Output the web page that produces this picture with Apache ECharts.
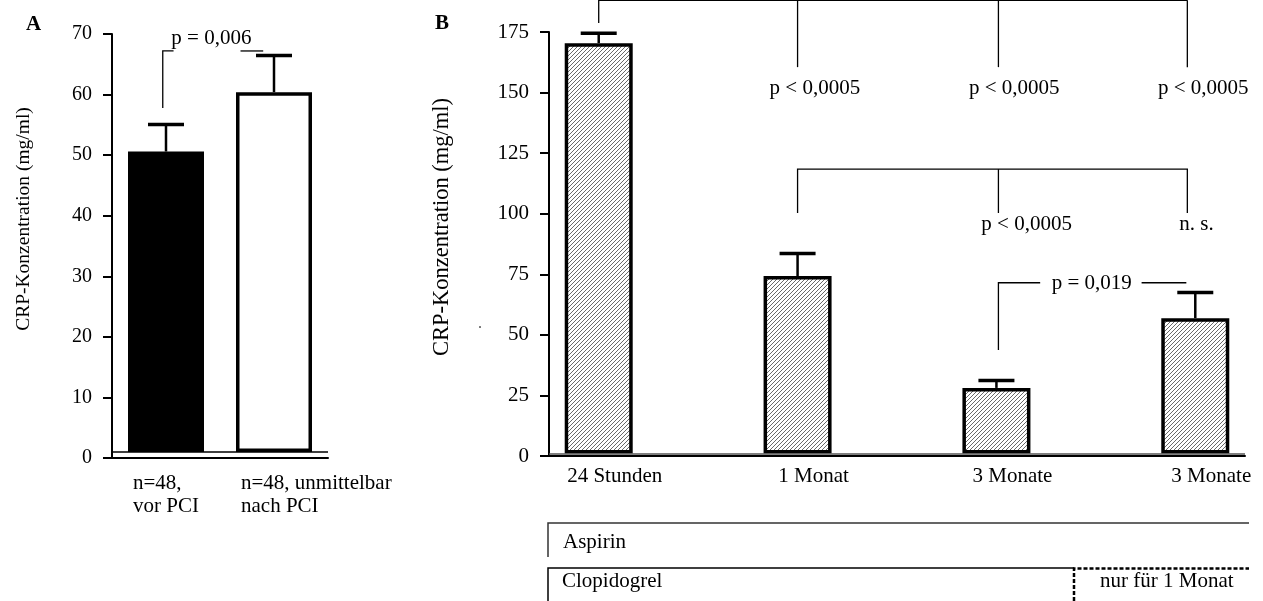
<!DOCTYPE html>
<html>
<head>
<meta charset="utf-8">
<script src="https://cdn.jsdelivr.net/npm/echarts@6/dist/echarts.min.js"></script>
<style>
  html, body { margin: 0; padding: 0; background: #fff; }
  #chart { width: 1263px; height: 601px; }
</style>
</head>
<body>
<div id="chart"></div>
<script>
const FONT = 'Liberation Serif'

// panel A: before / right after PCI
const groupsA = ['n=48,\nvor PCI', 'n=48, unmittelbar\nnach PCI']
const meansA = [50.6, 60.4]
const errTopsA = [55.3, 66.7]

// panel B: follow-up
const groupsB = ['24 Stunden', '1 Monat', '3 Monate', '3 Monate']
const meansB = [170.4, 74.3, 28.1, 56.9]
const errTopsB = [175.1, 84.2, 31.8, 68.1]

// significance brackets as polylines in data units
const bracketsA = [
  [[-0.03, 57.8], [-0.03, 67.2], [0.07, 67.2]],
  [[0.69, 67.2], [0.9, 67.2]]
]
const pLabelsA = [[0.42, 69.2, 'p = 0,006']]

const bracketsB = [
  [[0, 178.7], [0, 188.1], [2.96, 188.1]],
  [[1, 188.1], [1, 160.5]],
  [[2.01, 188.1], [2.01, 160.5]],
  [[2.96, 188.1], [2.96, 160.5]],
  [[1, 100.3], [1, 118.4], [2.96, 118.4], [2.96, 100.3]],
  [[2.01, 118.4], [2.01, 100.3]],
  [[2.01, 43.8], [2.01, 71.5], [2.22, 71.5]],
  [[2.73, 71.5], [2.955, 71.5]]
]
const pLabelsB = [
  [1.087, 151.5, 'p < 0,0005'],
  [2.09, 151.5, 'p < 0,0005'],
  [3.04, 151.5, 'p < 0,0005'],
  [2.152, 95.7, 'p < 0,0005'],
  [3.006, 95.7, 'n. s.'],
  [2.479, 71.4, 'p = 0,019']
]

const BASE = 1
const LW = 3.5
const CAP = 36

function makeHatch () {
  const c = document.createElement('canvas')
  c.width = c.height = 4
  const g = c.getContext('2d')
  g.fillStyle = '#fff'
  g.fillRect(0, 0, 4, 4)
  g.strokeStyle = '#6a6a6a'
  g.lineWidth = 1
  g.beginPath()
  g.moveTo(0, 4); g.lineTo(4, 0)
  g.moveTo(-1, 1); g.lineTo(1, -1)
  g.moveTo(3, 5); g.lineTo(5, 3)
  g.stroke()
  return c
}
const hatch = { image: makeHatch(), repeat: 'repeat' }

const barRenderer = (fills, barW) => (params, api) => {
  const x = api.value(0)
  const top = api.coord([x, api.value(1)])
  const base = api.coord([x, BASE])
  const err = api.coord([x, api.value(2)])
  const w = barW - LW
  return {
    type: 'group',
    children: [
      { type: 'line', shape: { x1: top[0], y1: top[1], x2: err[0], y2: err[1] + 1.5 }, style: { stroke: '#000', lineWidth: 2.5 } },
      { type: 'line', shape: { x1: err[0] - CAP / 2, y1: err[1] + 1.5, x2: err[0] + CAP / 2, y2: err[1] + 1.5 }, style: { stroke: '#000', lineWidth: 3.5 } },
      {
        type: 'rect',
        shape: { x: top[0] - w / 2, y: top[1] + LW / 2, width: w, height: base[1] - top[1] - LW },
        style: { fill: fills[params.dataIndex], stroke: '#000', lineWidth: LW }
      }
    ]
  }
}

const bracketRenderer = list => (params, api) => ({
  type: 'polyline',
  shape: { points: list[params.dataIndex].map(p => api.coord(p)) },
  style: { stroke: '#000', lineWidth: 1.3, fill: null }
})

const labelRenderer = list => (params, api) => {
  const p = api.coord([list[params.dataIndex][0], list[params.dataIndex][1]])
  return {
    type: 'text',
    x: p[0],
    y: p[1],
    style: {
      text: list[params.dataIndex][2],
      font: '21px "' + FONT + '"',
      fill: '#000',
      align: 'center',
      verticalAlign: 'middle'
    }
  }
}

const yAxisBase = {
  type: 'value',
  axisLine: { show: true, onZero: false, lineStyle: { color: '#000', width: 2 } },
  axisTick: { show: true, length: 9, lineStyle: { color: '#000', width: 2 } },
  splitLine: { show: false },
  nameLocation: 'middle'
}

const chart = echarts.init(document.getElementById('chart'))

chart.setOption({
  animation: false,
  backgroundColor: '#fff',
  grid: [
    { left: 112, top: 34, width: 216, height: 424, outerBoundsMode: 'none' },
    { left: 549, top: 32, width: 696, height: 424, outerBoundsMode: 'none' }
  ],
  xAxis: [
    {
      type: 'value',
      gridIndex: 0,
      min: -0.5,
      max: 1.5,
      axisLine: { onZero: false, lineStyle: { color: '#000', width: 2 } },
      axisTick: { show: false },
      splitLine: { show: false },
      axisLabel: {
        customValues: [0, 1],
        margin: 14,
        formatter: v => (groupsA[v] || '').split('\n').map(s => '{l|' + s + '}').join('\n'),
        rich: {
          l: { width: 66, align: 'left', fontSize: 21, fontFamily: FONT, color: '#000', lineHeight: 23 }
        }
      }
    },
    {
      type: 'value',
      gridIndex: 1,
      min: -0.25,
      max: 3.25,
      axisLine: { onZero: false, lineStyle: { color: '#000', width: 2 } },
      axisTick: { show: false },
      splitLine: { show: false },
      axisLabel: {
        customValues: [0, 1, 2, 3],
        margin: 10,
        padding: [0, 0, 0, 32],
        fontSize: 21,
        fontFamily: FONT,
        color: '#000',
        formatter: v => groupsB[v] || ''
      }
    }
  ],
  yAxis: [
    Object.assign({}, yAxisBase, {
      gridIndex: 0,
      min: 0,
      max: 70,
      interval: 10,
      axisLabel: { margin: 20, fontSize: 20, fontFamily: FONT, color: '#000' },
      name: 'CRP-Konzentration (mg/ml)',
      nameGap: 78,
      nameTextStyle: { fontSize: 19.5, fontFamily: FONT, color: '#000', padding: [0, 0, 0, 54] }
    }),
    Object.assign({}, yAxisBase, {
      gridIndex: 1,
      min: 0,
      max: 175,
      interval: 25,
      axisLabel: { margin: 20, fontSize: 21, fontFamily: FONT, color: '#000' },
      name: 'CRP-Konzentration (mg/ml)',
      nameGap: 95,
      nameTextStyle: { fontSize: 22.5, fontFamily: FONT, color: '#000', padding: [0, 0, 0, 34] }
    })
  ],
  series: [
    // inner base lines just above the x axes
    {
      type: 'line', xAxisIndex: 0, yAxisIndex: 0, symbol: 'none', silent: true,
      lineStyle: { color: '#000', width: 1.5 },
      data: [[-0.5, BASE], [1.5, BASE]]
    },
    {
      type: 'line', xAxisIndex: 1, yAxisIndex: 1, symbol: 'none', silent: true,
      lineStyle: { color: '#555', width: 1.5 },
      data: [[-0.25, 0.8], [3.25, 0.8]]
    },
    {
      type: 'custom', xAxisIndex: 0, yAxisIndex: 0, clip: false,
      renderItem: barRenderer(['#000', '#fff'], 76),
      data: meansA.map((v, i) => [i, v, errTopsA[i]])
    },
    {
      type: 'custom', xAxisIndex: 1, yAxisIndex: 1, clip: false,
      renderItem: barRenderer(meansB.map(() => hatch), 68),
      data: meansB.map((v, i) => [i, v, errTopsB[i]])
    },
    {
      type: 'custom', xAxisIndex: 0, yAxisIndex: 0, clip: false, silent: true,
      renderItem: bracketRenderer(bracketsA),
      data: bracketsA.map(b => b[0])
    },
    {
      type: 'custom', xAxisIndex: 1, yAxisIndex: 1, clip: false, silent: true,
      renderItem: bracketRenderer(bracketsB),
      data: bracketsB.map(b => b[0])
    },
    {
      type: 'custom', xAxisIndex: 0, yAxisIndex: 0, clip: false, silent: true,
      renderItem: labelRenderer(pLabelsA),
      data: pLabelsA.map(p => [p[0], p[1]])
    },
    {
      type: 'custom', xAxisIndex: 1, yAxisIndex: 1, clip: false, silent: true,
      renderItem: labelRenderer(pLabelsB),
      data: pLabelsB.map(p => [p[0], p[1]])
    }
  ],
  graphic: [
    { type: 'text', left: 26, top: 14, style: { text: 'A', font: 'bold 21px "' + FONT + '"', fill: '#000' } },
    { type: 'text', left: 435, top: 13, style: { text: 'B', font: 'bold 21px "' + FONT + '"', fill: '#000' } },
    { type: 'text', left: 478, top: 316, style: { text: '.', font: '16px "' + FONT + '"', fill: '#555' } },
    // treatment bars under panel B
    { type: 'polyline', shape: { points: [[548, 557], [548, 523], [1249, 523]] }, style: { stroke: '#333', lineWidth: 1.5, fill: null } },
    { type: 'text', left: 563, top: 532, style: { text: 'Aspirin', font: '21px "' + FONT + '"', fill: '#000' } },
    { type: 'polyline', shape: { points: [[548, 601], [548, 568], [1074, 568]] }, style: { stroke: '#000', lineWidth: 1.5, fill: null } },
    { type: 'text', left: 562, top: 571, style: { text: 'Clopidogrel', font: '21px "' + FONT + '"', fill: '#000' } },
    { type: 'polyline', shape: { points: [[1074, 601], [1074, 568.5], [1249, 568.5]] }, style: { stroke: '#000', lineWidth: 2.5, lineDash: [4, 2], fill: null } },
    { type: 'text', left: 1100, top: 571, style: { text: 'nur für 1 Monat', font: '21px "' + FONT + '"', fill: '#000' } }
  ]
})
</script>
</body>
</html>
